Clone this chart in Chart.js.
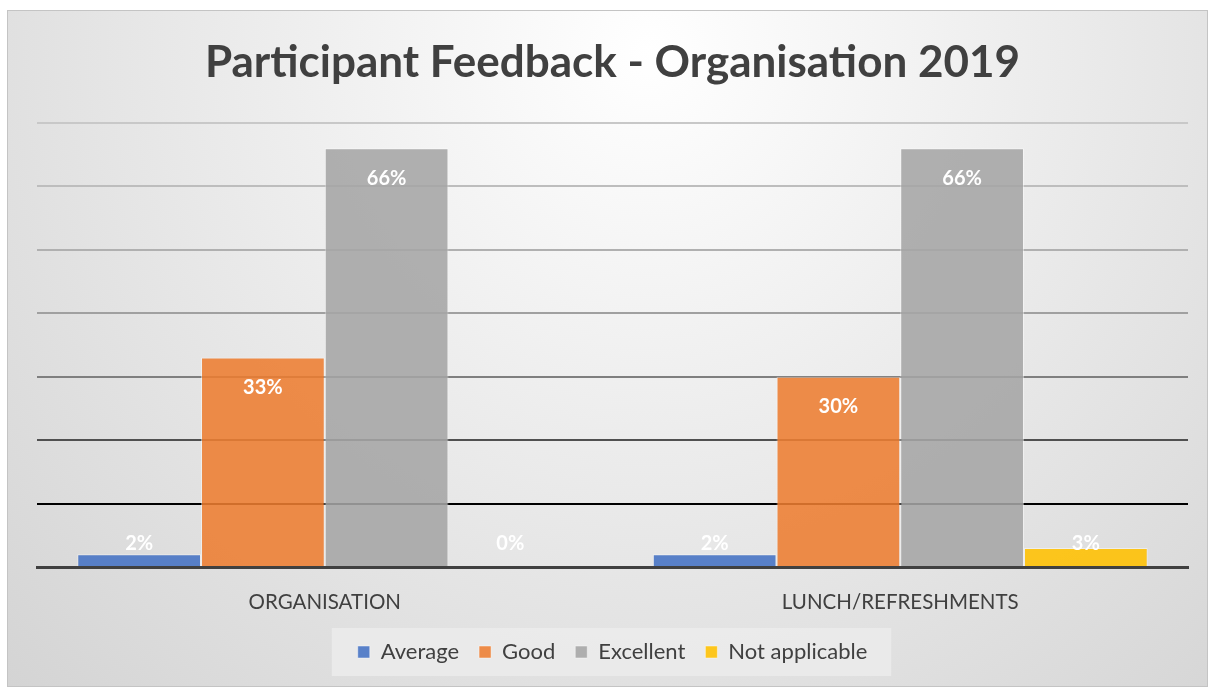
<!DOCTYPE html>
<html>
<head>
<meta charset="utf-8">
<script src="https://cdn.jsdelivr.net/npm/chart.js@4.4.0/dist/chart.umd.min.js"></script>
<style>
  body { margin: 0; background: #fff; }
  #frame { position: absolute; left: 7px; top: 10px; width: 1199px; height: 675px; border: 1px solid #c4c4c4; }
  canvas { display: block; }
</style>
</head>
<body>
<div id="frame"><canvas id="chart" width="1199" height="675"></canvas></div>
<script>
const categories = ['ORGANISATION', 'LUNCH/REFRESHMENTS'];
const seriesNames = ['Average', 'Good', 'Excellent', 'Not applicable'];
const average = [0.02, 0.02];
const good = [0.33, 0.30];
const excellent = [0.66, 0.66];
const notApplicable = [0, 0.03];
const colors = ['rgba(68,114,196,0.88)', 'rgba(237,125,49,0.88)', 'rgba(165,165,165,0.88)', 'rgba(255,192,0,0.88)'];
const gridColors = ['#3a3a3a', '#000000', '#505050', '#7f7f7f', '#a0a0a0', '#b0b0b0', '#bdbdbd', '#c8c8c8'];
const FONT = 'Lato, "Open Sans", sans-serif';

const backdrop = {
  id: 'backdrop',
  beforeDraw(chart) {
    const { ctx, width, height } = chart;
    const g = ctx.createRadialGradient(640, 40, 0, 640, 40, 900);
    g.addColorStop(0, '#ffffff');
    g.addColorStop(1, '#d4d4d4');
    ctx.save();
    ctx.fillStyle = g;
    ctx.fillRect(0, 0, width, height);
    // legend panel
    const boxes = chart.legend.legendHitBoxes;
    if (boxes && boxes.length) {
      const first = boxes[0], last = boxes[boxes.length - 1];
      ctx.fillStyle = 'rgba(235,235,235,0.9)';
      ctx.fillRect(first.left - 26, first.top - 13, last.left + last.width - first.left + 50, first.height + 26);
    }
    ctx.restore();
  }
};

const barLabels = {
  id: 'barLabels',
  afterDatasetsDraw(chart) {
    const { ctx, chartArea } = chart;
    ctx.save();
    ctx.fillStyle = '#ffffff';
    ctx.font = 'bold 20px ' + FONT;
    ctx.textAlign = 'center';
    ctx.textBaseline = 'middle';
    chart.data.datasets.forEach((ds, i) => {
      chart.getDatasetMeta(i).data.forEach((bar, j) => {
        const y = Math.min(bar.y + 30, chartArea.bottom - 23);
        ctx.fillText(Math.round(ds.data[j] * 100) + '%', bar.x, y);
      });
    });
    ctx.restore();
  }
};

new Chart(document.getElementById('chart'), {
  type: 'bar',
  data: {
    labels: categories,
    datasets: [average, good, excellent, notApplicable].map((d, i) => ({
      label: seriesNames[i],
      data: d,
      backgroundColor: colors[i],
      borderColor: 'rgba(255,255,255,0.45)',
      borderWidth: 1,
      categoryPercentage: 0.86,
      barPercentage: 1
    }))
  },
  options: {
    responsive: false,
    animation: false,
    layout: { padding: { left: 29, right: 19, top: 0, bottom: 13 } },
    plugins: {
      title: {
        display: true,
        text: 'Participant Feedback - Organisation 2019',
        color: '#404040',
        font: { family: FONT, size: 44, weight: 'bold' },
        padding: { top: 25, bottom: 34 }
      },
      legend: {
        position: 'bottom',
        labels: {
          color: '#404040',
          font: { family: FONT, size: 22 },
          boxWidth: 12,
          boxHeight: 12,
          padding: 20
        }
      },
      tooltip: { enabled: false }
    },
    scales: {
      x: {
        grid: { display: false },
        border: { color: '#404040', width: 3 },
        ticks: { color: '#404040', font: { family: FONT, size: 20.5 }, padding: 15 },
        afterFit: s => { s.height = 54; }
      },
      y: {
        min: 0,
        max: 0.7,
        ticks: { display: false, stepSize: 0.1 },
        border: { display: false },
        grid: {
          drawTicks: false,
          lineWidth: 2,
          color: c => c.index === 0 ? 'rgba(0,0,0,0)' : gridColors[c.index]
        }
      }
    }
  },
  plugins: [backdrop, barLabels]
});
</script>
</body>
</html>
